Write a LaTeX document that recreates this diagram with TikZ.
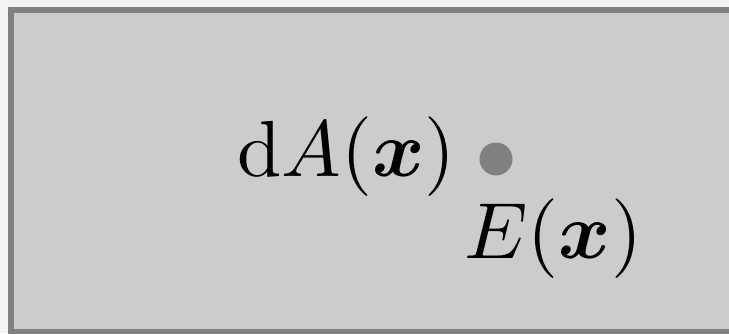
\documentclass[tikz,border=0pt]{standalone}
\usepackage{amsmath}
\definecolor{margingrey}{HTML}{F3F3F3}
\definecolor{fillgrey}{HTML}{CCCCCC}
\definecolor{bordergrey}{HTML}{808080}
\newcommand{\biglbl}[1]{\scalebox{3.98}{\normalsize #1}}
\begin{document}
\begin{tikzpicture}[x=0.5pt,y=-0.5pt,
  lbl/.style={anchor=base west, inner sep=0pt},
  dotnode/.style={circle, fill=bordergrey, minimum size=16.5pt, inner sep=0pt}]
\useasboundingbox (0,0) rectangle (729,333);
\clip (0,0) rectangle (729,333);
\fill[margingrey] (0,0) rectangle (729,333);
\draw[bordergrey, fill=fillgrey, line width=3pt] (11,10) rectangle (780,332);
\node[lbl] (dA) at (237,176) {\biglbl{$\mathrm{d}A(\boldsymbol{x})$}};
\node[dotnode] (p) at (496,159) {};
\node[lbl] (E) at (464,258) {\biglbl{$E(\boldsymbol{x})$}};
\end{tikzpicture}
\end{document}
